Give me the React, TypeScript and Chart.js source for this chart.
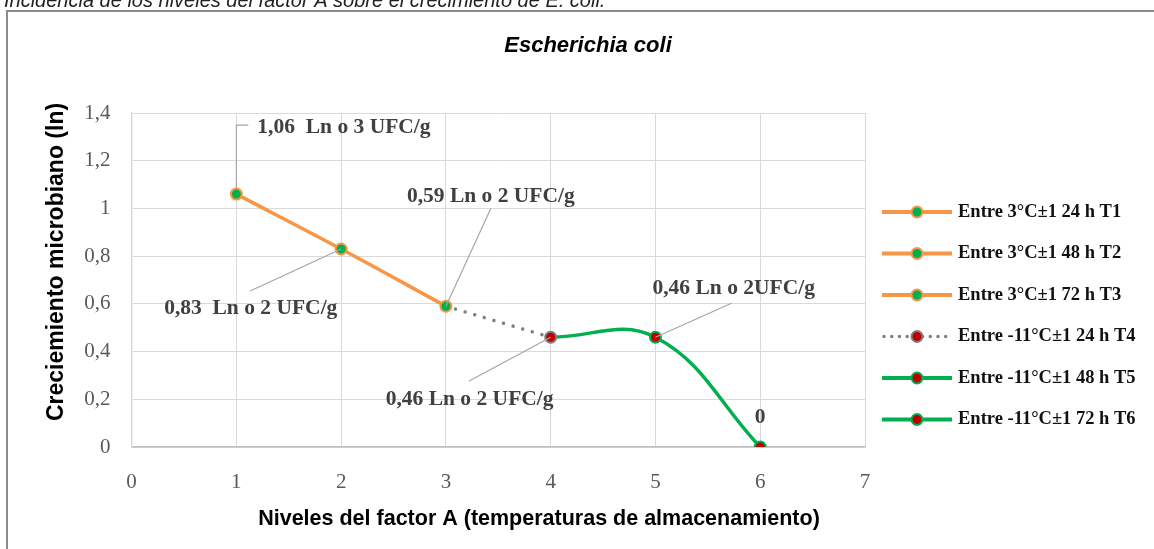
import React, { useEffect, useRef } from 'react';
import { Chart, registerables } from 'chart.js';

Chart.register(...registerables);

// ---- data ----
const levels = [1, 2, 3, 4, 5, 6];
const growth = [1.06, 0.83, 0.59, 0.46, 0.46, 0];
const pointLabels = [
  '1,06  Ln o 3 UFC/g',
  '0,83  Ln o 2 UFC/g',
  '0,59 Ln o 2 UFC/g',
  '0,46 Ln o 2 UFC/g',
  '0,46 Ln o 2UFC/g',
  '0',
];
const legendLabels = [
  'Entre 3°C±1 24 h T1',
  'Entre 3°C±1 48 h T2',
  'Entre 3°C±1 72 h T3',
  'Entre -11°C±1 24 h T4',
  'Entre -11°C±1 48 h T5',
  'Entre -11°C±1 72 h T6',
];
const yTickLabels = ['0', '0,2', '0,4', '0,6', '0,8', '1', '1,2', '1,4'];
const xTickLabels = ['0', '1', '2', '3', '4', '5', '6', '7'];
const chartTitle = 'Escherichia coli';
const caption = 'Incidencia de los niveles del factor A sobre el crecimiento de E. coli.';
const xTitle = 'Niveles del factor A (temperaturas de almacenamiento)';
const yTitle = 'Creciemiento microbiano (ln)';

// ---- styles ----
const ORANGE = '#F79646';
const GREEN = '#00B050';
const RED = '#C00000';
const GRAY = '#808080';
const LEADER = '#A6A6A6';
const LABEL_COLOR = '#404040';

// label placement relative to the point pixel (text left/center, leader path)
const labelPlacement = [
  { dx: 21, dy: -67, align: 'left', leader: [[0, -6], [0, -69], [12, -69]] },
  { dx: -177, dy: 59, align: 'left', leader: [[0, 0], [-91, 42]] },
  { dx: -39, dy: -110, align: 'left', leader: [[0, 0], [45, -98]] },
  { dx: -165, dy: 62, align: 'left', leader: [[0, 0], [-82, 44]] },
  { dx: -3, dy: -49, align: 'left', leader: [[0, 0], [76, -34]] },
  { dx: 0, dy: -30, align: 'center', leader: [] as number[][] },
];

const legendStyles = [
  { line: ORANGE, dash: false, fill: GREEN, border: ORANGE },
  { line: ORANGE, dash: false, fill: GREEN, border: ORANGE },
  { line: ORANGE, dash: false, fill: GREEN, border: ORANGE },
  { line: GRAY, dash: true, fill: RED, border: GRAY },
  { line: GREEN, dash: false, fill: RED, border: GREEN },
  { line: GREEN, dash: false, fill: RED, border: GREEN },
];

const pts = (a: number, b: number) =>
  levels.slice(a, b + 1).map((x, i) => ({ x, y: growth[a + i] }));

const overlay = {
  id: 'overlay',
  beforeDraw(chart: any) {
    const ctx = chart.ctx;
    ctx.save();
    ctx.strokeStyle = '#8C8C8C';
    ctx.lineWidth = 2;
    ctx.strokeRect(7, 11, 1170, 600);
    ctx.fillStyle = '#222222';
    ctx.font = 'italic 20px "Liberation Sans", Arial, sans-serif';
    ctx.textBaseline = 'alphabetic';
    ctx.textAlign = 'left';
    ctx.fillText(caption, 4, 7);
    ctx.restore();
  },
  afterDatasetsDraw(chart: any) {
    const ctx = chart.ctx;
    const xs = chart.scales.x;
    const ys = chart.scales.y;
    ctx.save();
    levels.forEach((lv, i) => {
      const px = xs.getPixelForValue(lv);
      const py = ys.getPixelForValue(growth[i]);
      const p = labelPlacement[i];
      if (p.leader.length) {
        ctx.strokeStyle = LEADER;
        ctx.lineWidth = 1.2;
        ctx.beginPath();
        p.leader.forEach(([dx, dy], k) => {
          if (k === 0) ctx.moveTo(px + dx, py + dy);
          else ctx.lineTo(px + dx, py + dy);
        });
        ctx.stroke();
      }
      ctx.fillStyle = LABEL_COLOR;
      ctx.font = 'bold 21.5px "Liberation Serif", "Times New Roman", serif';
      ctx.textBaseline = 'middle';
      ctx.textAlign = p.align as CanvasTextAlign;
      ctx.fillText(pointLabels[i], px + p.dx, py + p.dy);
    });
    ctx.restore();
  },
  afterDraw(chart: any) {
    const ctx = chart.ctx;
    ctx.save();
    ctx.fillStyle = '#000000';
    ctx.font = 'italic bold 22px "Liberation Sans", Arial, sans-serif';
    ctx.textAlign = 'center';
    ctx.textBaseline = 'middle';
    ctx.fillText(chartTitle, 588, 46);

    // axis titles
    ctx.font = 'bold 21.5px "Liberation Sans", Arial, sans-serif';
    ctx.fillText(xTitle, 539, 519);
    ctx.save();
    ctx.translate(57, 262);
    ctx.rotate(-Math.PI / 2);
    ctx.font = 'bold 23px "Liberation Sans", Arial, sans-serif';
    ctx.fillText(yTitle, 0, 0);
    ctx.restore();

    legendLabels.forEach((lab, i) => {
      const st = legendStyles[i];
      const y = 212 + i * 41.5;
      ctx.save();
      ctx.strokeStyle = st.line;
      ctx.lineWidth = st.dash ? 3.5 : 4;
      ctx.lineCap = st.dash ? 'round' : 'butt';
      if (st.dash) ctx.setLineDash([0.01, 7.7]);
      ctx.beginPath();
      ctx.moveTo(st.dash ? 884 : 882, y);
      ctx.lineTo(952, y);
      ctx.stroke();
      ctx.setLineDash([]);
      ctx.beginPath();
      ctx.arc(917, y, 5.5, 0, Math.PI * 2);
      ctx.fillStyle = st.fill;
      ctx.fill();
      ctx.lineWidth = 2;
      ctx.strokeStyle = st.border;
      ctx.stroke();
      ctx.restore();
      ctx.fillStyle = '#111111';
      ctx.font = 'bold 18.5px "Liberation Serif", "Times New Roman", serif';
      ctx.textAlign = 'left';
      ctx.textBaseline = 'middle';
      ctx.fillText(lab, 958, y);
    });
    ctx.restore();
  },
};

export default function App() {
  const ref = useRef<HTMLCanvasElement | null>(null);
  useEffect(() => {
    if (!ref.current) return;
    const chart = new Chart(ref.current, {
      type: 'line',
      data: {
        datasets: [
          {
            label: legendLabels[0],
            data: pts(0, 2),
            borderColor: ORANGE,
            borderWidth: 3.5,
            tension: 0.4,
            pointRadius: 5.5,
            pointBorderWidth: 2,
            pointBackgroundColor: GREEN,
            pointBorderColor: ORANGE,
          },
          {
            label: legendLabels[3],
            data: pts(2, 3),
            borderColor: GRAY,
            borderWidth: 3.5,
            borderDash: [0.01, 10],
            borderCapStyle: 'round',
            tension: 0,
            pointRadius: [0, 5.5],
            pointBorderWidth: 2,
            pointBackgroundColor: RED,
            pointBorderColor: GRAY,
          },
          {
            label: legendLabels[4],
            data: pts(3, 5),
            borderColor: GREEN,
            borderWidth: 3.5,
            tension: 0.4,
            pointRadius: [0, 5.5, 5.5],
            pointBorderWidth: 2,
            pointBackgroundColor: RED,
            pointBorderColor: GREEN,
          },
        ],
      },
      options: {
        animation: false,
        responsive: false,
        events: [],
        layout: { padding: { left: 0, right: 289, top: 113, bottom: 0 } },
        plugins: {
          legend: { display: false },
          tooltip: { enabled: false },
          title: { display: false },
        },
        scales: {
          x: {
            type: 'linear',
            min: 0,
            max: 7,
            ticks: {
              stepSize: 1,
              padding: 23,
              color: '#595959',
              font: { family: '"Liberation Serif", serif', size: 21 },
              callback: (_v: any, i: number) => xTickLabels[i],
            },
            grid: { color: '#D9D9D9', drawTicks: false, lineWidth: 1 },
            border: { color: '#BFBFBF', width: 1.5 },
            afterFit: (s: any) => {
              s.height = 102;
            },
          },
          y: {
            min: 0,
            max: 1.4,
            ticks: {
              stepSize: 0.2,
              padding: 21,
              color: '#595959',
              font: { family: '"Liberation Serif", serif', size: 21 },
              callback: (_v: any, i: number) => yTickLabels[i],
            },
            grid: { color: '#D9D9D9', drawTicks: false, lineWidth: 1 },
            border: { color: '#D9D9D9', width: 1.5 },
            afterFit: (s: any) => {
              s.width = 131.6;
            },
          },
        },
      } as any,
      plugins: [overlay],
    });
    return () => chart.destroy();
  }, []);
  return (
    <div
      style={{
        position: 'fixed',
        left: 0,
        top: 0,
        width: 1154,
        height: 549,
        background: '#ffffff',
        overflow: 'hidden',
      }}
    >
      <canvas ref={ref} width={1154} height={549} style={{ display: 'block', width: 1154, height: 549 }} />
    </div>
  );
}
